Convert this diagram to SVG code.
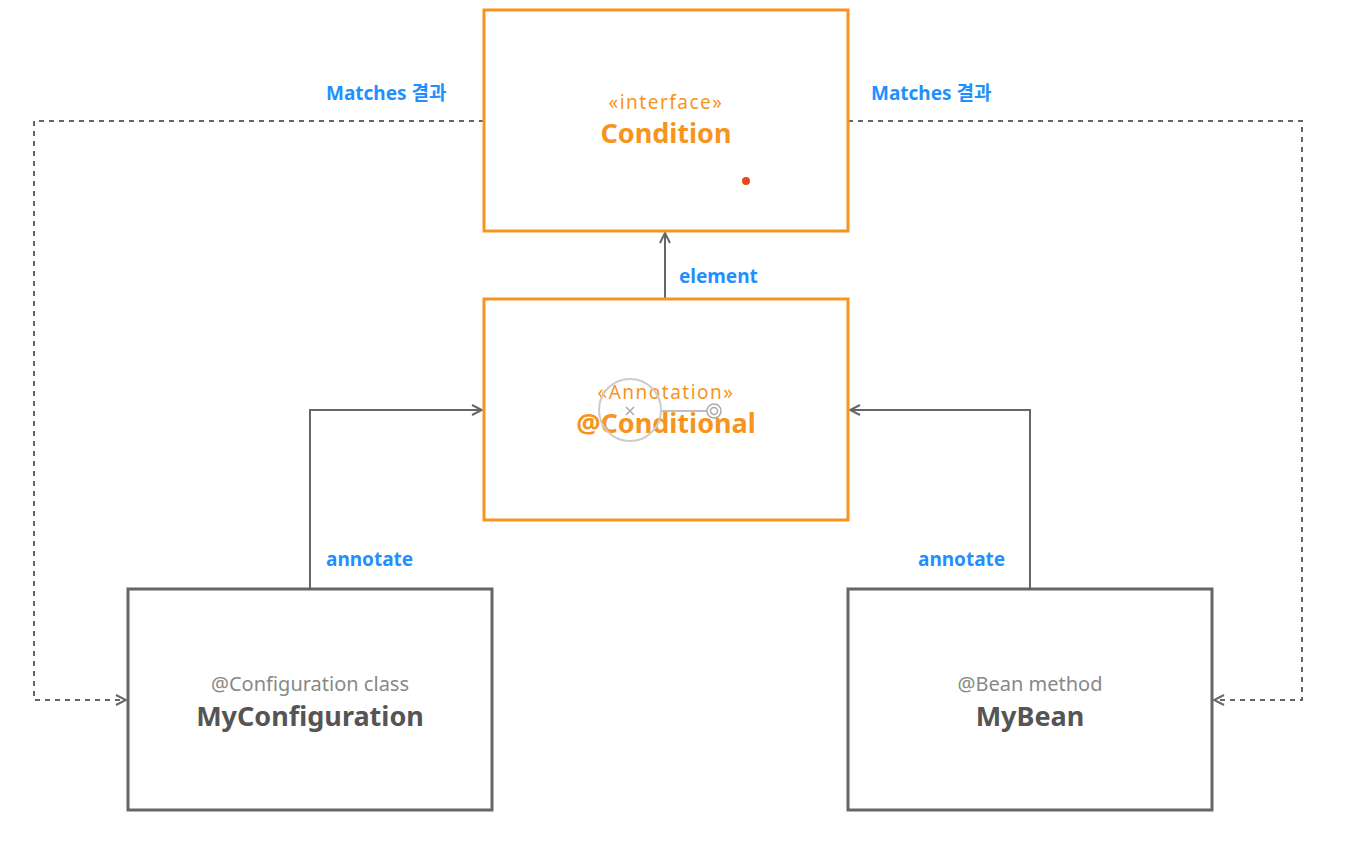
<svg xmlns="http://www.w3.org/2000/svg" width="1359" height="842" viewBox="0 0 1359 842">
<style>
.box{fill:#fff;stroke-width:3}
.orange{stroke:#F7941D}
.gray{stroke:#666}
text{font-family:"Noto Sans","Noto Sans CJK KR",sans-serif;text-anchor:middle}
.st{font-size:19px;fill:#F7941D;letter-spacing:1.5px}
.ti{font-size:27px;font-weight:bold;fill:#F7941D}
.gs{font-size:20px;fill:#888}
.gt{font-size:27px;font-weight:bold;fill:#555}
.lbl{font-size:19px;font-weight:bold;fill:#1E90FF;text-anchor:start}
.solid{fill:none;stroke:#666;stroke-width:2}
.dash{fill:none;stroke:#666;stroke-width:2;stroke-dasharray:5 5}
</style>
<defs>
<marker id="arr" viewBox="0 0 12 12" refX="11" refY="6" markerWidth="12" markerHeight="12" markerUnits="userSpaceOnUse" orient="auto">
<path d="M1,1 L11,6 L1,11" fill="none" stroke="#666" stroke-width="2"/>
</marker>
</defs>
<rect width="1359" height="842" fill="#fff"/>
<g id="connectors">
<path class="solid" d="M665,299 V233" marker-end="url(#arr)"/>
<path class="solid" d="M310,589 V410 H482" marker-end="url(#arr)"/>
<path class="solid" d="M1030,589 V410 H850" marker-end="url(#arr)"/>
<path class="dash" d="M484,121 H34 V700 H126" marker-end="url(#arr)"/>
<path class="dash" d="M848,121 H1302 V700 H1214" marker-end="url(#arr)"/>
<text class="lbl" x="679" y="283">element</text>
<text class="lbl" x="326" y="566">annotate</text>
<text class="lbl" x="918" y="566">annotate</text>
<text class="lbl" x="326" y="100">Matches 결과</text>
<text class="lbl" x="871" y="100">Matches 결과</text>
</g>
<g id="condition">
<rect class="box orange" x="484" y="10" width="364" height="221"/>
<text class="st" x="666" y="109">«interface»</text>
<text class="ti" x="666" y="143">Condition</text>
<circle cx="746" cy="181" r="4" fill="#E8481C"/>
</g>
<g id="conditional">
<rect class="box orange" x="484" y="299" width="364" height="221"/>
<text class="st" x="666" y="399">«Annotation»</text>
<text class="ti" x="666" y="433" font-size="29">@Conditional</text>
<g fill="none" stroke="#aaa" stroke-width="1.5">
<circle cx="630" cy="410" r="31" stroke="#ccc" stroke-width="2"/>
<path d="M626,407 L634,415 M634,407 L626,415"/>
<path d="M662,411 H707"/>
<circle cx="714" cy="411" r="7"/>
<circle cx="714" cy="411" r="3.5"/>
</g>
</g>
<g id="myconfiguration">
<rect class="box gray" x="128" y="589" width="364" height="221"/>
<text class="gs" x="310" y="691">@Configuration class</text>
<text class="gt" x="310" y="726">MyConfiguration</text>
</g>
<g id="mybean">
<rect class="box gray" x="848" y="589" width="364" height="221"/>
<text class="gs" x="1030" y="691">@Bean method</text>
<text class="gt" x="1030" y="726">MyBean</text>
</g>
</svg>
